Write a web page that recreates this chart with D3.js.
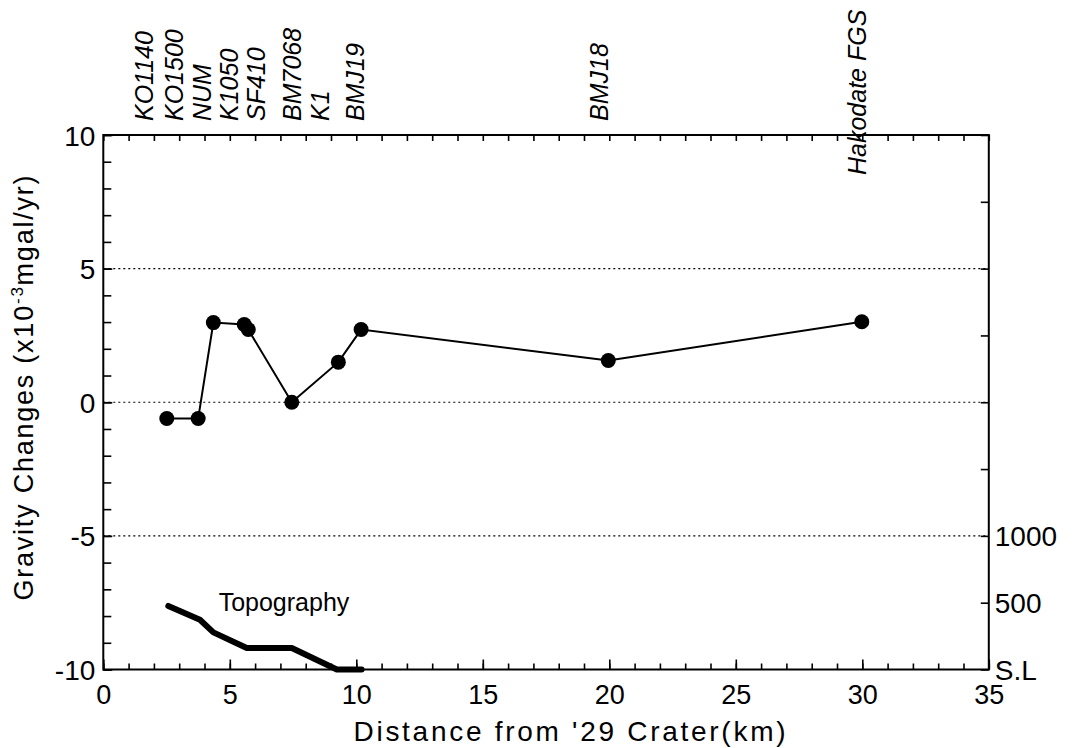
<!DOCTYPE html>
<html><head><meta charset="utf-8">
<script src="https://cdn.jsdelivr.net/npm/d3@7"></script>
<style>
body{margin:0;background:#fff}
text{font-family:"Liberation Sans",Arial,Helvetica,sans-serif;fill:#000}
</style>
</head><body><svg id="c" width="1073" height="748"></svg>
<script>
// ---- data ----
const stations = ["KO1140","KO1500","NUM","K1050","SF410","BM7068","K1","BMJ19","BMJ18","Hakodate FGS"];
const stationLabelKm = [1.6,2.8,3.9,4.95,6.05,7.45,8.55,9.95,19.6,29.8];
const distanceKm = [2.51,3.75,4.35,5.57,5.73,7.45,9.29,10.19,19.96,29.98];
const gravityChange = [-0.61,-0.61,2.98,2.91,2.72,0.0,1.50,2.72,1.56,3.01];
const topoDistanceKm = [2.57,3.82,4.35,5.67,7.45,9.23,10.21];
const topoElevation = [476,372,278,161,161,0,0];
const xTickValues = [0,5,10,15,20,25,30,35];
const yTickValues = [10,5,0,-5,-10];
const gridValues = [5,0,-5];
const elevTickValues = [0,500,1000];
const elevTickLabels = ["S.L","500","1000"];
const xTitle = "Distance from '29 Crater(km)";
const topoLabel = "Topography";

// ---- layout ----
const L = 103.3, R = 988.8, T = 135, B = 669.5;
const svg = d3.select("#c");
const x = d3.scaleLinear().domain([0,35]).range([L,R]);
const y = d3.scaleLinear().domain([-10,10]).range([B,T]);
const yElev = d3.scaleLinear().domain([0,4000]).range([B,T]);

// grid
svg.append("g").selectAll("line").data(gridValues).join("line")
  .attr("x1",L).attr("x2",R).attr("y1",d=>y(d)).attr("y2",d=>y(d))
  .attr("stroke","#000").attr("stroke-width",1.2).attr("stroke-dasharray","2,3");

function styleAxis(g){
  g.selectAll(".domain").remove();
  g.selectAll(".tick line").attr("stroke","#000").attr("stroke-width",1.6);
  g.selectAll("text").attr("fill","#000").style("font-family",'"Liberation Sans",Arial,sans-serif');
}

// bottom axis minor + major
svg.append("g").attr("transform",`translate(0,${B})`)
  .call(d3.axisBottom(x).tickValues(d3.range(0,36,1)).tickSize(-6).tickSizeOuter(0).tickFormat(""))
  .call(styleAxis);
const gb = svg.append("g").attr("transform",`translate(0,${B})`)
  .call(d3.axisBottom(x).tickValues(xTickValues).tickSize(-10).tickSizeOuter(0).tickFormat(d=>String(d)))
  .call(styleAxis);
gb.selectAll("text").attr("y",34.5).attr("dy",0).style("font-size","27px");

// top axis
svg.append("g").attr("transform",`translate(0,${T})`)
  .call(d3.axisTop(x).tickValues(d3.range(0,36,1)).tickSize(-6).tickSizeOuter(0).tickFormat(""))
  .call(styleAxis);

// left axis
svg.append("g").attr("transform",`translate(${L},0)`)
  .call(d3.axisLeft(y).tickValues(d3.range(-10,11,1)).tickSize(-8).tickSizeOuter(0).tickFormat(""))
  .call(styleAxis);
const gl = svg.append("g").attr("transform",`translate(${L},0)`)
  .call(d3.axisLeft(y).tickValues(yTickValues).tickSize(-9).tickSizeOuter(0).tickPadding(8).tickFormat(d=>String(d)))
  .call(styleAxis);
gl.selectAll("text").attr("dy","0.36em").style("font-size","28px");

// right axis (elevation)
const gr = svg.append("g").attr("transform",`translate(${R},0)`)
  .call(d3.axisRight(yElev).tickValues(d3.range(0,4001,500)).tickSize(-8).tickSizeOuter(0).tickPadding(6)
    .tickFormat(d=>{const i=elevTickValues.indexOf(d);return i>=0?elevTickLabels[i]:"";}))
  .call(styleAxis);
gr.selectAll("text").attr("dy","0.36em").style("font-size","28px");

// frame
svg.append("rect").attr("x",L).attr("y",T).attr("width",R-L).attr("height",B-T)
  .attr("fill","none").attr("stroke","#000").attr("stroke-width",2);

// topography
svg.append("path")
  .datum(topoDistanceKm.map((d,i)=>[d,topoElevation[i]]))
  .attr("d",d3.line().x(d=>x(d[0])).y(d=>yElev(d[1])))
  .attr("fill","none").attr("stroke","#000").attr("stroke-width",6)
  .attr("stroke-linejoin","round").attr("stroke-linecap","round");
svg.append("text").attr("x",x(4.56)).attr("y",yElev(440)).style("font-size","25px").text(topoLabel);

// gravity line
const pts = distanceKm.map((d,i)=>[d,gravityChange[i]]);
svg.append("path").datum(pts)
  .attr("d",d3.line().x(d=>x(d[0])).y(d=>y(d[1])))
  .attr("fill","none").attr("stroke","#000").attr("stroke-width",2);
svg.append("g").selectAll("circle").data(pts).join("circle")
  .attr("cx",d=>x(d[0])).attr("cy",d=>y(d[1])).attr("r",7.5).attr("fill","#000");

// station labels
svg.append("g").selectAll("text").data(stations).join("text")
  .attr("transform",(d,i)=>`translate(${x(stationLabelKm[i])+9},${d==="Hakodate FGS"?175:121}) rotate(-90)`)
  .style("font-size","25px").style("font-style","italic")
  .text(d=>d);

// x title
svg.append("text").attr("x",569.5).attr("y",741).attr("text-anchor","middle")
  .attr("textLength",432).attr("lengthAdjust","spacing")
  .style("font-size","28px").text(xTitle);

// y title
const yt = svg.append("text").attr("transform","translate(33,388) rotate(-90)")
  .attr("text-anchor","middle").attr("textLength",425).attr("lengthAdjust","spacing")
  .style("font-size","27px");
yt.append("tspan").text("Gravity Changes (x10");
yt.append("tspan").attr("dy",-10).style("font-size","17px").text("-3");
yt.append("tspan").attr("dy",10).text("mgal/yr)");
</script>
</body></html>
